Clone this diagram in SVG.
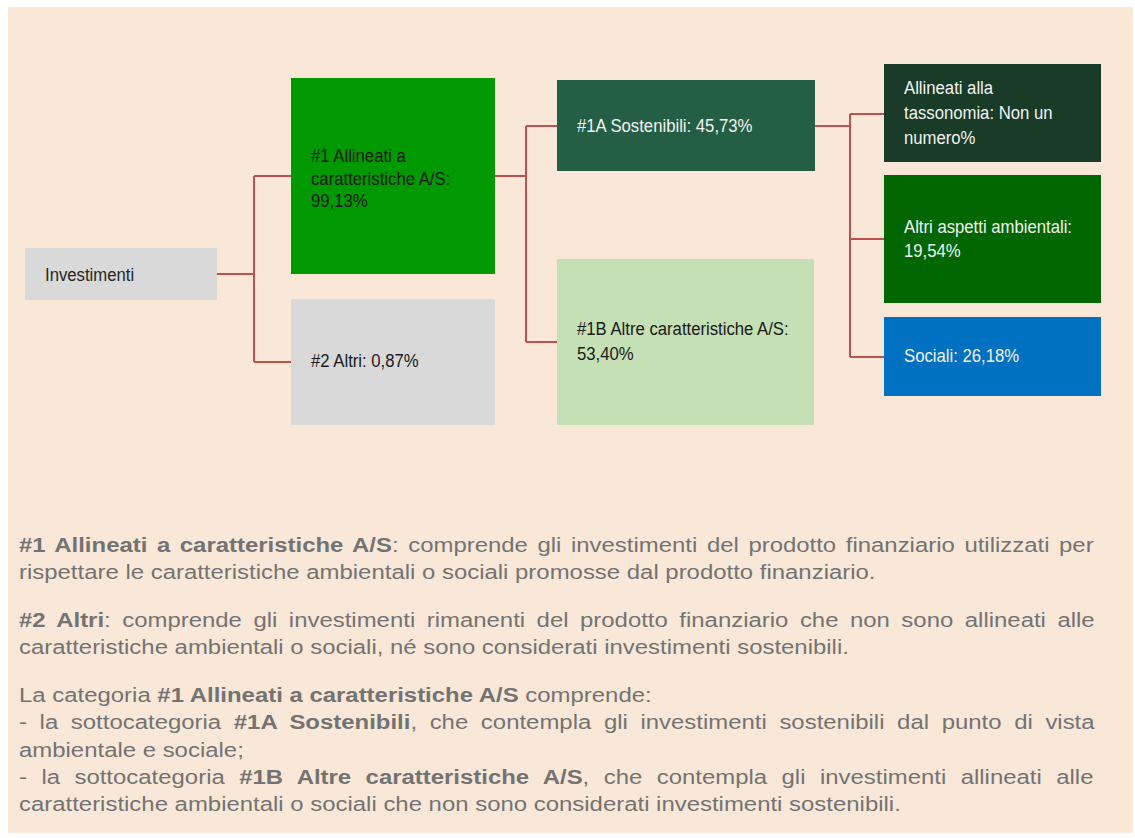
<svg xmlns="http://www.w3.org/2000/svg" width="1135" height="838" viewBox="0 0 1135 838">
<style>
.lbl{font-family:"Liberation Sans",Arial,sans-serif;font-size:19px}
.dk{fill:#1a1a1a}
.wt{fill:#f2f2f2}
.conn{fill:none;stroke:#c0504d;stroke-width:2}
.body{font-family:"Liberation Sans",Arial,sans-serif;font-size:20px;fill:#737373}
.b{font-weight:bold}
</style>
<rect width="1135" height="838" fill="#ffffff"/>
<rect x="8" y="7" width="1125" height="826" fill="#f9e8d7"/>
<g id="connectors">
<path class="conn" d="M217,274 H254 M254,176 V362 M254,176 H291 M254,362 H291"/>
<path class="conn" d="M495,176 H526 M526,126 V342 M526,126 H557 M526,342 H557"/>
<path class="conn" d="M815,126 H850 M850,114 V357 M850,114 H884 M850,239 H884 M850,357 H884"/>
</g>
<g id="investimenti">
<rect x="25" y="248" width="192" height="52" fill="#d9d9d9"/>
<g transform="translate(45,0) scale(0.88,1)"><text class="lbl" x="0" y="281" fill="#262626">Investimenti</text></g>
</g>
<g id="n1">
<rect x="291" y="78" width="204" height="196" fill="#009900"/>
<g class="lbl dk" transform="translate(311,0) scale(0.88,1)">
<text x="0" y="162">#1 Allineati a</text>
<text x="0" y="185">caratteristiche A/S:</text>
<text x="0" y="207">99,13%</text>
</g>
</g>
<g id="n2">
<rect x="291" y="299" width="204" height="126" fill="#d9d9d9"/>
<g class="lbl dk" transform="translate(311,0) scale(0.88,1)"><text x="0" y="367">#2 Altri: 0,87%</text></g>
</g>
<g id="n1a">
<rect x="557" y="80" width="258" height="91" fill="#245e44"/>
<g class="lbl wt" transform="translate(577,0) scale(0.88,1)"><text x="0" y="132">#1A Sostenibili: 45,73%</text></g>
</g>
<g id="n1b">
<rect x="557" y="259" width="257" height="166" fill="#c5e0b4"/>
<g class="lbl dk" transform="translate(577,0) scale(0.88,1)">
<text x="0" y="335">#1B Altre caratteristiche A/S:</text>
<text x="0" y="360">53,40%</text>
</g>
</g>
<g id="tassonomia">
<rect x="884" y="64" width="217" height="98" fill="#193b28"/>
<g class="lbl wt" transform="translate(904,0) scale(0.88,1)">
<text x="0" y="94">Allineati alla</text>
<text x="0" y="119">tassonomia: Non un</text>
<text x="0" y="144">numero%</text>
</g>
</g>
<g id="ambientali">
<rect x="884" y="175" width="217" height="128" fill="#006600"/>
<g class="lbl wt" transform="translate(904,0) scale(0.88,1)">
<text x="0" y="233">Altri aspetti ambientali:</text>
<text x="0" y="257">19,54%</text>
</g>
</g>
<g id="sociali">
<rect x="884" y="317" width="217" height="79" fill="#0070c0"/>
<g class="lbl wt" transform="translate(904,0) scale(0.88,1)"><text x="0" y="362">Sociali: 26,18%</text></g>
</g>
<g id="legend" class="body" transform="translate(19,0) scale(1.197,1)">
<text x="0" y="552" word-spacing="2.44"><tspan class="b">#1 Allineati a caratteristiche A/S</tspan>: comprende gli investimenti del prodotto finanziario utilizzati per</text>
<text x="0" y="579">rispettare le caratteristiche ambientali o sociali promosse dal prodotto finanziario.</text>
<text x="0" y="627" word-spacing="4.05"><tspan class="b">#2 Altri</tspan>: comprende gli investimenti rimanenti del prodotto finanziario che non sono allineati alle</text>
<text x="0" y="654">caratteristiche ambientali o sociali, né sono considerati investimenti sostenibili.</text>
<text x="0" y="702">La categoria <tspan class="b">#1 Allineati a caratteristiche A/S</tspan> comprende:</text>
<text x="0" y="729" word-spacing="4.99">- la sottocategoria <tspan class="b">#1A Sostenibili</tspan>, che contempla gli investimenti sostenibili dal punto di vista</text>
<text x="0" y="757">ambientale e sociale;</text>
<text x="0" y="784" word-spacing="6.5">- la sottocategoria <tspan class="b">#1B Altre caratteristiche A/S</tspan>, che contempla gli investimenti allineati alle</text>
<text x="0" y="811">caratteristiche ambientali o sociali che non sono considerati investimenti sostenibili.</text>
</g>
</svg>
